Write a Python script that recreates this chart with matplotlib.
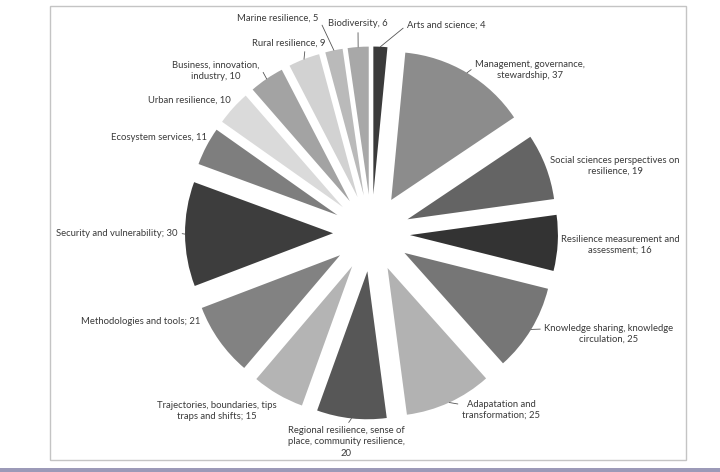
import matplotlib.pyplot as plt
import matplotlib.transforms as mtransforms
from matplotlib.patches import Rectangle
import numpy as np

labels = [
    "Arts and science; 4",
    "Management, governance,\nstewardship, 37",
    "Social sciences perspectives on\nresilience, 19",
    "Resilience measurement and\nassessment; 16",
    "Knowledge sharing, knowledge\ncirculation, 25",
    "Adapatation and\ntransformation; 25",
    "Regional resilience, sense of\nplace, community resilience,\n20",
    "Trajectories, boundaries, tips\ntraps and shifts; 15",
    "Methodologies and tools; 21",
    "Security and vulnerability; 30",
    "Ecosystem services, 11",
    "Urban resilience, 10",
    "Business, innovation,\nindustry, 10",
    "Rural resilience, 9",
    "Marine resilience, 5",
    "Biodiversity, 6",
]
values = [4, 37, 19, 16, 25, 25, 20, 15, 21, 30, 11, 10, 10, 9, 5, 6]
shades = ["#3b3b3b", "#8c8c8c", "#646464", "#333333", "#767676", "#b2b2b2",
          "#575757", "#b4b4b4", "#828282", "#3d3d3d", "#7e7e7e", "#dadada",
          "#a3a3a3", "#d2d2d2", "#bababa", "#a8a8a8"]

# label placement in picture pixels (top-left origin): x, y, ha, leader anchor
label_pos = [
    (407, 25, "left", (0, 0.5)),
    (530, 70, "center", (0.02, 0.75)),
    (615, 166, "center", None),
    (620, 245, "center", None),
    (609, 334, "center", (0, 0.75)),
    (501, 410, "center", (0.02, 0.75)),
    (346, 442, "center", (0.5, 1)),
    (217, 411, "center", None),
    (200, 321, "right", None),
    (178, 233, "right", (1, 0.5)),
    (207, 138, "right", None),
    (231, 100, "right", None),
    (216, 71, "center", (1, 0.75)),
    (289, 43, "center", (0.72, 0)),
    (278, 18, "center", (1, 0.5)),
    (358, 24, "center", (0.5, 0)),
]

W, H = 720, 472
R_PX = 148.0
CX, CY = 371.5, 233.0
explode_frac = 0.26

fig = plt.figure(figsize=(W / 100, H / 100), dpi=100)
ax = fig.add_axes([0, 0, 1, 1])

wedges, _ = ax.pie(values, colors=shades, startangle=90, counterclock=False,
                   explode=[explode_frac] * len(values), radius=1.0,
                   wedgeprops=dict(linewidth=0))
ax.set_xlim(-CX / R_PX, (W - CX) / R_PX)
ax.set_ylim(-(H - CY) / R_PX, CY / R_PX)
ax.set_aspect("equal")
ax.axis("off")

img_px = mtransforms.Affine2D().scale(1, -1).translate(0, H)
txt_color = "#3a3a3a"

for w, lab, (lx, ly, ha, anchor) in zip(wedges, labels, label_pos):
    ang = np.deg2rad((w.theta1 + w.theta2) / 2)
    ex, ey = w.center
    px = ex + w.r * np.cos(ang)
    py = ey + w.r * np.sin(ang)
    arrow = None
    if anchor is not None:
        arrow = dict(arrowstyle="-", color="#555555", lw=0.6,
                     shrinkA=1, shrinkB=0, relpos=anchor)
    ax.annotate(lab, xy=(px, py), xycoords="data",
                xytext=(lx, ly), textcoords=img_px,
                ha=ha, va="center", multialignment="center",
                fontsize=6.8, color=txt_color,
                family=["Lato", "DejaVu Sans"], linespacing=1.3,
                arrowprops=arrow, annotation_clip=False)

fig.patches.append(Rectangle((50, H - 460), 636, 454, transform=None,
                             fill=False, edgecolor="#c4c4c4", lw=1.0))
fig.patches.append(Rectangle((0, 0), W, 4, transform=None,
                             facecolor="#9c9ab8", edgecolor="none"))

fig.savefig("out.png", dpi=100)
